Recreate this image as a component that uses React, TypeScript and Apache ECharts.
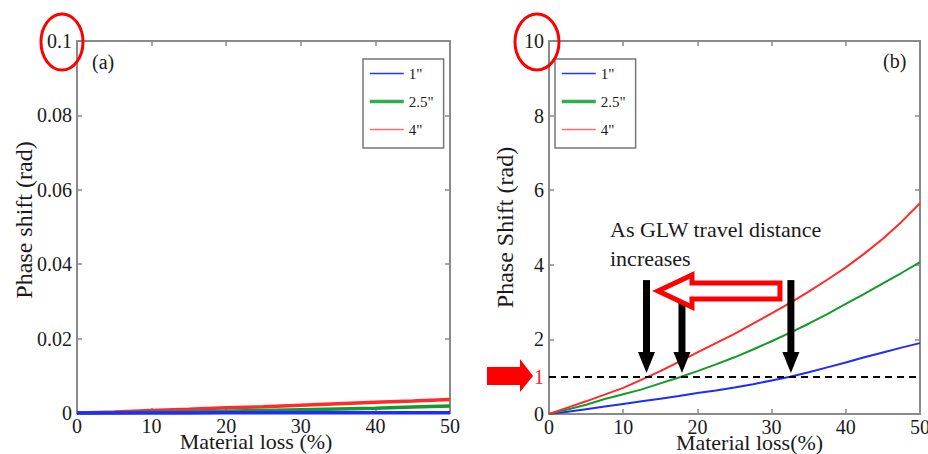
import React, { useEffect, useRef } from 'react';
import * as echarts from 'echarts';

const FONT = 'Liberation Serif';

// ---- Panel (a) ----
const lossA = [0, 5, 10, 15, 20, 25, 30, 35, 40, 45, 50];
const shiftA_1in = [0, 0, 0.00002, 0.00003, 0.00004, 0.00005, 0.00006, 0.00007, 0.00008, 0.00009, 0.0001];
const shiftA_25in = [0, 0.0001, 0.0002, 0.0003, 0.0005, 0.0007, 0.0009, 0.0011, 0.0013, 0.0016, 0.0019];
const shiftA_4in = [0, 0.0003, 0.0007, 0.001, 0.0014, 0.0017, 0.0021, 0.0025, 0.0029, 0.0032, 0.0036];

// ---- Panel (b) ----
const lossB = [0, 2.5, 5, 7.5, 10, 12.5, 15, 17.5, 20, 22.5, 25, 27.5, 30, 32.5, 35, 37.5, 40, 42.5, 45, 47.5, 50];
const shiftB_1in = [0, 0.06, 0.13, 0.2, 0.27, 0.34, 0.41, 0.48, 0.56, 0.63, 0.71, 0.8, 0.9, 1.0, 1.12, 1.25, 1.38, 1.52, 1.65, 1.78, 1.9];
const shiftB_25in = [0, 0.12, 0.25, 0.4, 0.53, 0.66, 0.82, 0.98, 1.15, 1.33, 1.52, 1.73, 1.95, 2.18, 2.42, 2.68, 2.95, 3.22, 3.5, 3.78, 4.07];
const shiftB_4in = [0, 0.17, 0.34, 0.52, 0.7, 0.92, 1.15, 1.4, 1.65, 1.9, 2.15, 2.42, 2.7, 2.98, 3.28, 3.6, 3.93, 4.3, 4.7, 5.15, 5.65];

const seriesNames = ['1"', '2.5"', '4"'];
const xRange = { min: 0, max: 50, interval: 10 };
const yRangeA = { min: 0, max: 0.1, interval: 0.02 };
const yRangeB = { min: 0, max: 10, interval: 2 };
const threshold = 1;

// black arrows (material loss where each curve reaches 1 rad)
const arrowX = [13.14, 17.92, 32.6];
const arrowTop = [3.59, 3.0, 3.59];
const arrowTip = [1.1, 1.1, 1.1];

// hollow red arrow outline (data units)
const hollowX = [14.69, 19.27, 19.27, 31.13, 31.13, 19.27, 19.27];
const hollowY = [3.3, 3.73, 3.51, 3.51, 3.08, 3.08, 2.87];

const lineColors = ['#1f2bff', '#139a2a', '#ff2a2a'];
const legendColors = ['#2233ff', '#33aa55', '#ff6b6b'];
const legendWidths = [1.5, 3.5, 1.5];

const AXIS_GRAY = '#8a8a8a';
const TEXT = '#1a1a1a';

function zip(xs: number[], ys: number[]) {
  return xs.map((x, i) => [x, ys[i]]);
}

const labelStyle = { fontFamily: FONT, fontSize: 20, color: TEXT, margin: 5 };

function xAxes(gridIndex: number, name: string, namePadding: number[]) {
  const common = {
    type: 'value',
    gridIndex,
    min: xRange.min,
    max: xRange.max,
    interval: xRange.interval,
    splitLine: { show: false },
    axisLine: { show: true, onZero: false, lineStyle: { color: AXIS_GRAY, width: 2 } },
    axisTick: { show: true, inside: true, length: 5, lineStyle: { color: AXIS_GRAY, width: 1.5 } },
  };
  return [
    {
      ...common,
      position: 'bottom',
      axisLabel: { ...labelStyle, margin: 3 },
      name,
      nameLocation: 'middle',
      nameGap: 17,
      nameMoveOverlap: false,
      nameTextStyle: { fontFamily: FONT, fontSize: 22, color: TEXT, padding: namePadding },
    },
    { ...common, position: 'top', axisLabel: { show: false } },
  ];
}

function yAxes(gridIndex: number, range: any, name: string, nameGap: number, namePadding: number[]) {
  const common = {
    type: 'value',
    gridIndex,
    min: range.min,
    max: range.max,
    interval: range.interval,
    splitLine: { show: false },
    axisLine: { show: true, onZero: false, lineStyle: { color: AXIS_GRAY, width: 2 } },
    axisTick: { show: true, inside: true, length: 5, lineStyle: { color: AXIS_GRAY, width: 1.5 } },
  };
  return [
    {
      ...common,
      position: 'left',
      axisLabel: { ...labelStyle },
      name,
      nameLocation: 'middle',
      nameGap,
      nameMoveOverlap: false,
      nameTextStyle: { fontFamily: FONT, fontSize: 24, color: TEXT, padding: namePadding },
    },
    { ...common, position: 'right', axisLabel: { show: false } },
  ];
}

function legend(left: number) {
  return {
    left,
    top: 59,
    orient: 'vertical',
    itemWidth: 34,
    itemHeight: 14,
    itemGap: 13,
    padding: [7, 10, 11, 5],
    borderColor: '#777',
    borderWidth: 1.5,
    borderRadius: 0,
    backgroundColor: '#fff',
    selectedMode: false,
    textStyle: { fontFamily: FONT, fontSize: 15, color: TEXT },
    data: seriesNames.map((n, i) => ({
      name: n,
      itemStyle: { opacity: 0 },
      lineStyle: { color: legendColors[i], width: legendWidths[i] },
    })),
    z: 10,
  };
}

export default function App() {
  const ref = useRef<HTMLDivElement>(null);
  useEffect(() => {
    const chart = echarts.init(ref.current!, null, { renderer: 'svg' });

    const seriesA = [shiftA_1in, shiftA_25in, shiftA_4in].map((ys, i) => ({
      type: 'line',
      name: seriesNames[i],
      xAxisIndex: 0,
      yAxisIndex: 0,
      data: zip(lossA, ys),
      symbol: 'none',
      clip: false,
      lineStyle: { color: lineColors[i], width: 3.5 },
      itemStyle: { color: lineColors[i] },
      z: 3 - i,
    }));

    const seriesB: any[] = [shiftB_1in, shiftB_25in, shiftB_4in].map((ys, i) => ({
      type: 'line',
      name: seriesNames[i],
      xAxisIndex: 2,
      yAxisIndex: 2,
      data: zip(lossB, ys),
      symbol: 'none',
      lineStyle: { color: lineColors[i], width: 2 },
      itemStyle: { color: lineColors[i] },
      z: 3,
    }));

    seriesB[0].markLine = {
      silent: true,
      symbol: 'none',
      animation: false,
      lineStyle: { type: [7, 5], color: '#000', width: 2 },
      label: {
        show: true,
        position: 'start',
        distance: 5,
        formatter: String(threshold),
        color: '#ff1a1a',
        fontFamily: FONT,
        fontSize: 20,
      },
      data: [{ yAxis: threshold }],
    };

    const blackArrows = {
      type: 'custom',
      xAxisIndex: 2,
      yAxisIndex: 2,
      z: 5,
      silent: true,
      data: arrowX.map((x, i) => [x, arrowTop[i], arrowTip[i]]),
      encode: { x: 0, y: [1, 2] },
      renderItem: (params: any, api: any) => {
        const x = api.value(0);
        const p1 = api.coord([x, api.value(1)]);
        const p2 = api.coord([x, api.value(2)]);
        const headH = 21;
        return {
          type: 'group',
          children: [
            {
              type: 'rect',
              shape: { x: p1[0] - 3.5, y: p1[1], width: 7, height: p2[1] - headH - p1[1] + 1 },
              style: { fill: '#000' },
            },
            {
              type: 'polygon',
              shape: {
                points: [
                  [p1[0] - 8.5, p2[1] - headH],
                  [p1[0] + 8.5, p2[1] - headH],
                  [p1[0], p2[1]],
                ],
              },
              style: { fill: '#000' },
            },
          ],
        };
      },
    };

    const hollowArrow = {
      type: 'custom',
      xAxisIndex: 2,
      yAxisIndex: 2,
      z: 6,
      silent: true,
      data: [[hollowX[0], hollowY[0]]],
      renderItem: (params: any, api: any) => {
        const pts = hollowX.map((x, i) => api.coord([x, hollowY[i]]));
        return {
          type: 'polygon',
          shape: { points: pts },
          style: { fill: '#fff', stroke: '#ff0000', lineWidth: 5, lineJoin: 'miter' },
        };
      },
    };

    const option: any = {
      animation: false,
      backgroundColor: '#fff',
      textStyle: { fontFamily: FONT },
      grid: [
        { left: 77, top: 41, width: 373, height: 372, outerBoundsMode: 'none', containLabel: false },
        { left: 549, top: 41, width: 371, height: 373, outerBoundsMode: 'none', containLabel: false },
      ],
      xAxis: [
        ...xAxes(0, 'Material loss (%)', [0, 15, 0, 0]),
        ...xAxes(1, 'Material loss(%)', [0, 0, 0, 30]),
      ],
      yAxis: [
        ...yAxes(0, yRangeA, 'Phase shift (rad)', 41, [0, 0, 0, 14]),
        ...yAxes(1, yRangeB, 'Phase Shift (rad)', 32, [0, 0, 0, 0]),
      ],
      legend: [legend(363), legend(555)],
      series: [...seriesA, ...seriesB, blackArrows, hollowArrow],
      graphic: [
        {
          type: 'ellipse',
          shape: { cx: 62, cy: 42, rx: 21, ry: 28 },
          style: { fill: 'none', stroke: '#ff0000', lineWidth: 3 },
          z: 20,
        },
        {
          type: 'ellipse',
          shape: { cx: 537, cy: 42, rx: 22, ry: 28 },
          style: { fill: 'none', stroke: '#ff0000', lineWidth: 3 },
          z: 20,
        },
        {
          type: 'text',
          left: 92,
          top: 52,
          style: { text: '(a)', fontFamily: FONT, fontSize: 20, fill: TEXT },
          z: 20,
        },
        {
          type: 'text',
          left: 883,
          top: 51,
          style: { text: '(b)', fontFamily: FONT, fontSize: 20, fill: TEXT },
          z: 20,
        },
        {
          type: 'text',
          left: 610,
          top: 218,
          style: { text: 'As GLW travel distance', fontFamily: FONT, fontSize: 22, fill: TEXT },
          z: 20,
        },
        {
          type: 'text',
          left: 610,
          top: 247,
          style: { text: 'increases', fontFamily: FONT, fontSize: 22, fill: TEXT },
          z: 20,
        },
        {
          type: 'polygon',
          shape: {
            points: [
              [487, 367],
              [520, 367],
              [520, 359],
              [533, 376],
              [520, 392],
              [520, 385],
              [487, 385],
            ],
          },
          style: { fill: '#ff0000' },
          z: 20,
        },
      ],
    };

    chart.setOption(option);
    return () => chart.dispose();
  }, []);

  return (
    <div
      ref={ref}
      style={{ position: 'fixed', left: 0, top: 0, width: 928, height: 454, background: '#fff' }}
    />
  );
}
